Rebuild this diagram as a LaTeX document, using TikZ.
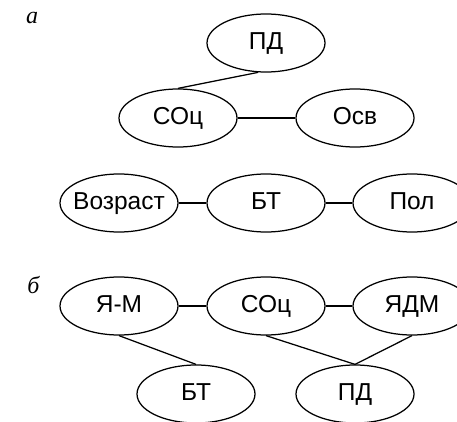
\documentclass[tikz,border=0pt]{standalone}
\usepackage{fontspec}
\setmainfont{Liberation Serif}
\newfontfamily\labfont{Liberation Sans}
\usetikzlibrary{shapes.geometric}
\tikzset{
  ell/.style={draw, ellipse, line width=1.25pt, minimum width=118pt, minimum height=58pt,
    inner xsep=-8pt, inner ysep=0pt, text height=17.5pt, text depth=4pt,
    font=\labfont\fontsize{24.5}{26}\selectfont},
  conn/.style={line width=1.25pt},
  panel/.style={font=\itshape\fontsize{24}{26}\selectfont, inner sep=0pt}
}
\begin{document}
\begin{tikzpicture}[x=1pt,y=-1pt]
\useasboundingbox (0,0) rectangle (457,422);
\clip (0,0) rectangle (457,422);
\node[panel] (la) at (32,17.5) {а};
\node (pd) [ell] at (266,43) {ПД};
\node (soc) [ell] at (178,118) {СОц};
\node (osv) [ell] at (355,118) {Осв};
\node (voz) [ell] at (119,203) {Возраст};
\node (bt) [ell] at (266,203) {БТ};
\node (pol) [ell] at (412,203) {Пол};
\draw[conn] (pd.255) -- (soc.north);
\draw[conn] (soc) -- (osv);
\draw[conn] (voz) -- (bt);
\draw[conn] (bt) -- (pol);
\node[panel] (lb) at (33.5,285) {б};
\node (ym) [ell] at (119,306) {Я-М};
\node (soc2) [ell] at (266,306) {СОц};
\node (ydm) [ell] at (412,306) {ЯДМ};
\node (bt2) [ell] at (196,394) {БТ};
\node (pd2) [ell] at (355,394) {ПД};
\draw[conn] (ym) -- (soc2);
\draw[conn] (soc2) -- (ydm);
\draw[conn] (ym.south) -- (bt2.north);
\draw[conn] (soc2.south) -- (pd2.north);
\draw[conn] (ydm.south) -- (pd2.north);
\end{tikzpicture}
\end{document}
